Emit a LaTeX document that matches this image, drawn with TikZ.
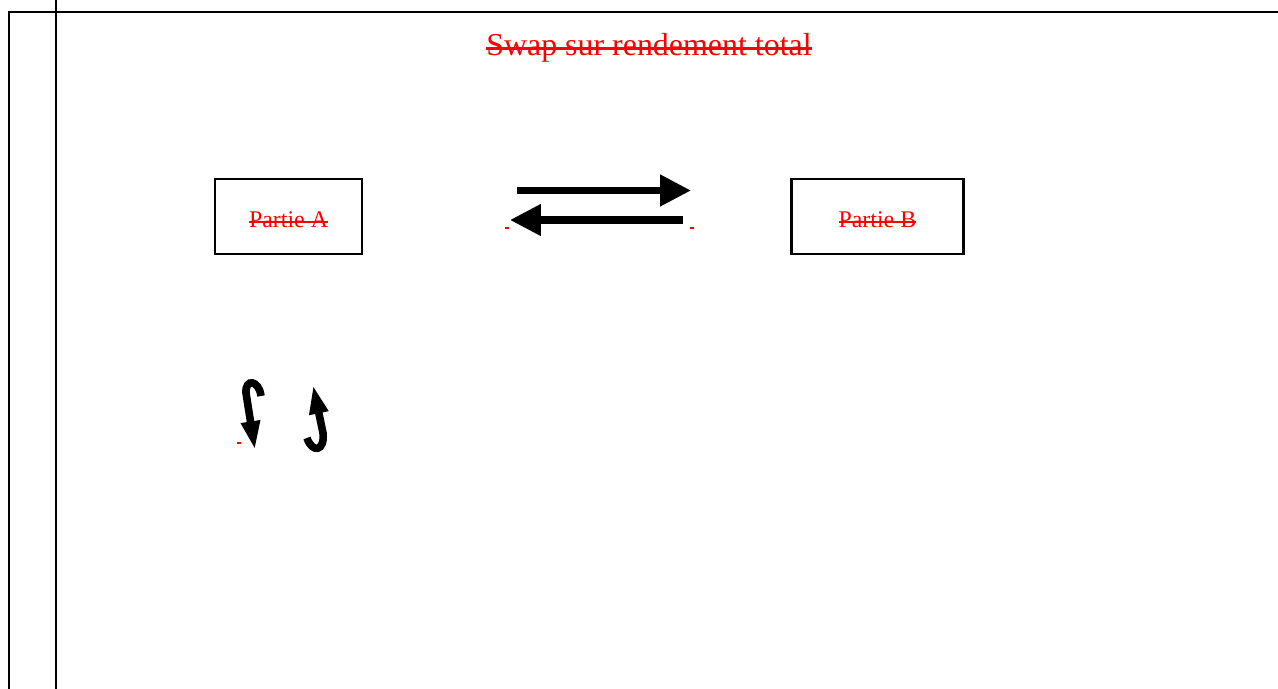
\documentclass[tikz,border=0pt]{standalone}
\usepackage{fontspec}
\setmainfont{Liberation Serif}
\usepackage{tikz}
\usetikzlibrary{positioning, arrows.meta}

% struck-out text
\newsavebox\barrebox
\newcommand\barre[1]{\sbox\barrebox{#1}\usebox\barrebox\llap{\rule[0.2em]{\wd\barrebox}{0.08em}}}

\begin{document}
\begin{tikzpicture}[
    x=0.025cm, y=-0.025cm,
    frameline/.style={line width=0.05cm, black},
    partie/.style={rectangle, draw, line width=0.06cm, align=center, minimum height=1.875cm, inner sep=0pt, text height=0.56cm, text depth=0pt, text=red, font=\fontsize{17}{20}\selectfont},
    titre/.style={text=red, font=\fontsize{22.7}{26}\selectfont, inner sep=0pt},
    bigarrow/.style={-{Triangle[length=0.77cm, width=0.75cm]}, line width=0.175cm},
    curlarrow/.style={-{Triangle[length=0.72cm, width=0.44cm]}, line width=0.19cm},
    dot/.style={red, line width=0.03cm}
]
\useasboundingbox (0,0) rectangle (1278,689);

% table lines
\draw[frameline] (9,689) -- (9,12) -- (1278,12);
\draw[frameline] (56,0) -- (56,689);

\node[titre, anchor=base] (titre) at (649,56) {\barre{Swap sur rendement total}};

\node[partie, minimum width=3.675cm] (partieA) at (288.5,216.5) {\barre{Partie A}};
\node[partie, minimum width=4.3cm, right=10.67cm of partieA] (partieB) {\barre{Partie B}};

% exchange arrows
\coordinate (allerDebut) at (517,190.5);
\coordinate (allerFin) at (691,190.5);
\coordinate (retourDebut) at (683,220);
\coordinate (retourFin) at (510,220);
\draw[bigarrow] (allerDebut) -- (allerFin);
\draw[bigarrow] (retourDebut) -- (retourFin);

% curved arrows
\coordinate (gaucheDebut) at (261,396);
\coordinate (gaucheFin) at (255,450);
\coordinate (droiteDebut) at (307,438);
\coordinate (droiteFin) at (313,385);
\draw[curlarrow] (gaucheDebut) .. controls (259,380) and (245,378) .. (246,393) -- (gaucheFin);
\draw[curlarrow] (droiteDebut) .. controls (312,453) and (325,452) .. (323,433) -- (droiteFin);

% small red marks
\draw[dot] (505,228) -- (509,228);
\draw[dot] (690,228) -- (694,228);
\draw[dot] (237,443) -- (241,443);
\end{tikzpicture}
\end{document}
